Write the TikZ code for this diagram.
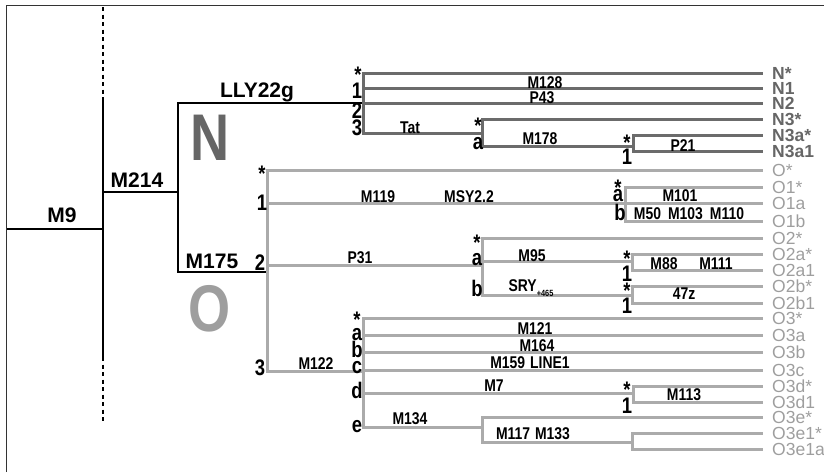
\documentclass[tikz,border=0pt]{standalone}
\usepackage{fontspec}
\setmainfont{Liberation Sans}
\newfontfamily\condfont[FakeStretch=0.82]{Liberation Sans}
\usetikzlibrary{calc}
\colorlet{Ngray}{black!58}
\colorlet{Ogray}{black!33}
\colorlet{Ntext}{black!60}
\colorlet{Otext}{black!38}
\newcommand\starmark{\raisebox{-10pt}{*}}
\tikzset{
  frameLine/.style={draw=black!80, line width=0.8pt},
  trunk/.style    ={draw=black, line width=2pt},
  trunkGap/.style ={trunk, dash pattern=on 4pt off 3.5pt},
  nBranch/.style  ={draw=Ngray, line width=3pt},
  oBranch/.style  ={draw=Ogray, line width=3pt},
  toLeaf/.style   ={shorten >=9pt},
  bigLbl/.style   ={inner sep=0pt, anchor=base,
                    font=\bfseries\fontsize{21}{21}\selectfont},
  hapLetter/.style={inner sep=0pt, anchor=base,
                    font=\condfont\bfseries\fontsize{66}{66}\selectfont},
  clade/.style    ={inner sep=0pt, text height=15pt, text depth=0pt,
                    font=\condfont\bfseries\fontsize{22.5}{22.5}\selectfont},
  cladeStar/.style={clade, text height=6pt, text depth=0pt},
  mut/.style      ={inner sep=0pt, text height=12pt, text depth=0pt,
                    font=\condfont\bfseries\fontsize{17}{17}\selectfont},
  nLeaf/.style    ={anchor=west, inner sep=0pt, text height=12pt, text depth=0pt,
                    text=Ntext, font=\bfseries\fontsize{17.5}{17.5}\selectfont},
  oLeaf/.style    ={nLeaf, text=Otext, font=\fontsize{17.5}{17.5}\selectfont},
}

\begin{document}
\begin{tikzpicture}[x=1pt, y=-1pt]
\useasboundingbox (0,0) rectangle (824,472);

% --- frame (top and left edge only) ---
\coordinate (fTL) at (6,5);
\coordinate (fTR) at (824,5);
\coordinate (fBL) at (6,472);
\draw[frameLine] (fBL) -- (fTL) -- (fTR);

% --- leaf labels ---
\foreach \nm/\txt/\y in {Nstar/N*/73, N1/N1/88, N2/N2/103, N3star/N3*/119,
                         N3astar/N3a*/135, N3a1/N3a1/151}
  \node[nLeaf] (\nm) at (772,\y) {\txt};
\foreach \nm/\txt/\y in {Ostar/O*/170, O1star/O1*/187, O1a/O1a/203, O1b/O1b/221,
                         O2star/O2*/238, O2astar/O2a*/254, O2a1/O2a1/270,
                         O2bstar/O2b*/286, O2b1/O2b1/303, O3star/O3*/318,
                         O3a/O3a/335, O3b/O3b/352, O3c/O3c/370, O3dstar/O3d*/386,
                         O3d1/O3d1/402, O3estar/O3e*/417, O3e1star/O3e1*/433,
                         O3e1a/O3e1a/449}
  \node[oLeaf] (\nm) at (772,\y) {\txt};

% --- junctions ---
\coordinate (root)   at (7,229);
\coordinate (m9J)    at (103,229);
\coordinate (topD)   at (103,7);
\coordinate (topS)   at (103,98);
\coordinate (botS)   at (103,357);
\coordinate (botD)   at (103,422);
\coordinate (m214J)  at (178,192);
\coordinate (nJ)     at (363,103);
\coordinate (n3J)    at (482,133);
\coordinate (n3aJ)   at (633,146);
\coordinate (oJ)     at (267,272);
\coordinate (o1J)    at (625,203);
\coordinate (o2J)    at (482,265);
\coordinate (o2aJ)   at (632,261);
\coordinate (o2bJ)   at (632,295);
\coordinate (o3J)    at (363,371);
\coordinate (o3dJ)   at (633,393);
\coordinate (o3eJ)   at (482,427);
\coordinate (o3e1J)  at (632,442);

% --- black trunk ---
\draw[trunk] (root) -- (m9J);
\draw[trunkGap] (topD) -- (topS);
\draw[trunk] (topS) -- (botS);
\draw[trunkGap] (botS) -- (botD);
\draw[trunk] (m9J |- m214J) -- (m214J);
\draw[trunk] (nJ) -| (m214J) |- (oJ);

% --- haplogroup N ---
\draw[nBranch, toLeaf] (nJ) |- (Nstar.west);
\draw[nBranch, toLeaf] (nJ) |- (N1.west);
\draw[nBranch, toLeaf] (nJ) -- (N2.west);
\draw[nBranch] (nJ) |- (n3J);
\draw[nBranch, toLeaf] (n3J) |- (N3star.west);
\draw[nBranch] (n3J) |- (n3aJ);
\foreach \lf in {N3astar, N3a1}
  \draw[nBranch, toLeaf] (n3aJ) |- (\lf.west);

% --- haplogroup O ---
\draw[oBranch, toLeaf] (oJ) |- (Ostar.west);
\draw[oBranch] (oJ) |- (o1J);
\foreach \lf in {O1star, O1a, O1b}
  \draw[oBranch, toLeaf] (o1J) |- (\lf.west);
\draw[oBranch] (oJ) |- (o2J);
\draw[oBranch, toLeaf] (o2J) |- (O2star.west);
\draw[oBranch] (o2J) |- (o2aJ);
\draw[oBranch] (o2J) |- (o2bJ);
\foreach \lf in {O2astar, O2a1}
  \draw[oBranch, toLeaf] (o2aJ) |- (\lf.west);
\foreach \lf in {O2bstar, O2b1}
  \draw[oBranch, toLeaf] (o2bJ) |- (\lf.west);
\draw[oBranch] (oJ) |- (o3J);
\foreach \lf in {O3star, O3a, O3b, O3c}
  \draw[oBranch, toLeaf] (o3J) |- (\lf.west);
\draw[oBranch] (o3J) |- (o3dJ);
\foreach \lf in {O3dstar, O3d1}
  \draw[oBranch, toLeaf] (o3dJ) |- (\lf.west);
\draw[oBranch] (o3J) |- (o3eJ);
\draw[oBranch, toLeaf] (o3eJ) |- (O3estar.west);
\draw[oBranch] (o3eJ) |- (o3e1J);
\foreach \lf in {O3e1star, O3e1a}
  \draw[oBranch, toLeaf] (o3e1J) |- (\lf.west);

% --- trunk labels ---
\node[bigLbl] (lM9)    at (62,222)  {M9};
\node[bigLbl] (lM214)  at (137,187) {M214};
\node[bigLbl] (lLLY)   at (257,97)  {LLY22g};
\node[bigLbl] (lM175)  at (212,268) {M175};
\node[hapLetter, text=Ntext] (hN) at (210,160) {N};
\node[hapLetter, text=Otext] (hO) at (210,331) {O};

% --- clade letters, N ---
\node[cladeStar] (cN)    at (358,69)  {\starmark};
\node[clade]     (cN1)   at (357,91)  {1};
\node[clade]     (cN2)   at (357,111) {2};
\node[clade]     (cN3)   at (357,128) {3};
\node[cladeStar] (cN3s)  at (478,120) {\starmark};
\node[clade]     (cN3a)  at (478,142) {a};
\node[cladeStar] (cN3as) at (627,137) {\starmark};
\node[clade]     (cN3a1) at (627,157) {1};

% --- clade letters, O ---
\node[cladeStar] (cO)    at (262,168) {\starmark};
\node[clade]     (cO1)   at (262,203) {1};
\node[clade]     (cO2)   at (260,263) {2};
\node[clade]     (cO3)   at (260,368) {3};
\node[cladeStar] (cO1s)  at (618,182) {\starmark};
\node[clade]     (cO1a)  at (618,194) {a};
\node[clade]     (cO1b)  at (620,213) {b};
\node[cladeStar] (cO2s)  at (477,237) {\starmark};
\node[clade]     (cO2a)  at (477,258) {a};
\node[clade]     (cO2b)  at (477,289) {b};
\node[cladeStar] (cO2as) at (627,253) {\starmark};
\node[clade]     (cO2a1) at (627,274) {1};
\node[cladeStar] (cO2bs) at (627,285) {\starmark};
\node[clade]     (cO2b1) at (627,306) {1};
\node[cladeStar] (cO3s)  at (357,314) {\starmark};
\node[clade]     (cO3a)  at (357,333) {a};
\node[clade]     (cO3b)  at (357,350) {b};
\node[clade]     (cO3c)  at (357,366) {c};
\node[clade]     (cO3d)  at (357,391) {d};
\node[clade]     (cO3e)  at (357,425) {e};
\node[cladeStar] (cO3ds) at (627,384) {\starmark};
\node[clade]     (cO3d1) at (627,406) {1};

% --- markers on branches ---
\node[mut] (mM128) at (545,82)  {M128};
\node[mut] (mP43)  at (542,97)  {P43};
\node[mut] (mTat)  at (410,127) {Tat};
\node[mut] (mM178) at (540,138) {M178};
\node[mut] (mP21)  at (683,145) {P21};
\node[mut] (mM119) at (378,196) {M119};
\node[mut] (mMSY)  at (469,196) {MSY2.2};
\node[mut] (mM101) at (680,195) {M101};
\node[mut] (mM50)  at (689,213) {M50\hspace{7pt}M103\hspace{7pt}M110};
\node[mut] (mP31)  at (360,257) {P31};
\node[mut] (mM95)  at (532,255) {M95};
\node[mut] (mSRY)  at (531,285) {SRY\raisebox{-5pt}{\fontsize{9}{9}\selectfont+465}};
\node[mut] (mM88)  at (664,263) {M88};
\node[mut] (mM111) at (716,263) {M111};
\node[mut] (m47z)  at (684,293) {47z};
\node[mut] (mM122) at (316,363) {M122};
\node[mut] (mM121) at (535,328) {M121};
\node[mut] (mM164) at (537,345) {M164};
\node[mut] (mM159) at (530,362) {M159\hspace{5pt}LINE1};
\node[mut] (mM7)   at (494,385) {M7};
\node[mut] (mM113) at (684,394) {M113};
\node[mut] (mM134) at (410,418) {M134};
\node[mut] (mM117) at (533,433) {M117\hspace{5pt}M133};

\end{tikzpicture}
\end{document}
